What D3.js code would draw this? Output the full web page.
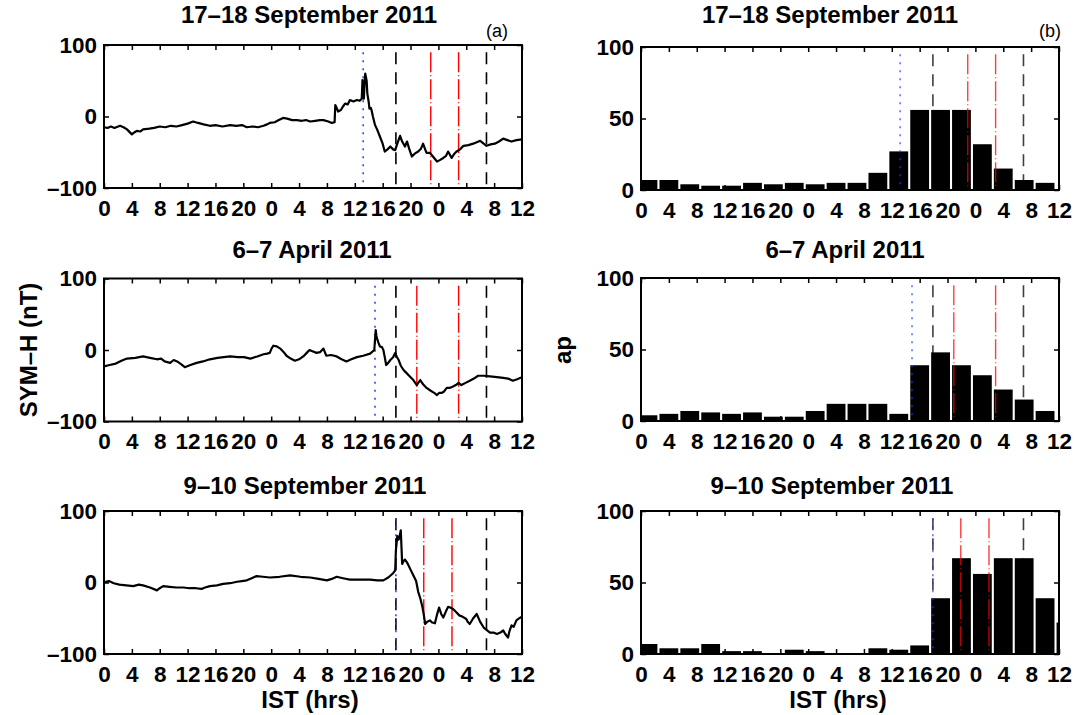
<!DOCTYPE html>
<html>
<head>
<meta charset="utf-8">
<script src="https://cdn.jsdelivr.net/npm/d3@7"></script>
<style>
body { margin: 0; background: #fff; }
</style>
</head>
<body>
<svg id="fig" width="1090" height="715"></svg>
<script>
var titles = ['17\u201318 September 2011', '6\u20137 April 2011', '9\u201310 September 2011'];
var xTickHours = [0, 4, 8, 12, 16, 20, 24, 28, 32, 36, 40, 44, 48, 52, 56, 60];
var xTickLabels = ['0', '4', '8', '12', '16', '20', '0', '4', '8', '12', '16', '20', '0', '4', '8', '12'];
var symTicks = [-100, 0, 100];
var apTicks = [0, 50, 100];

// SYM-H (nT), [hour, value]
var symSep17 = [[0, -15], [0.5, -16], [1, -14], [1.5, -16], [2.3, -13], [2.8, -15], [3.3, -18], [4, -25], [4.4, -22],
    [4.7, -20], [5.2, -21], [5.6, -18], [6.5, -17], [7.2, -16], [8, -14], [8.8, -15], [9.6, -13], [10.4, -14], [11.2, -12],
    [12, -10], [12.8, -7], [13.5, -9], [14.3, -11], [15.2, -13], [16, -12], [17, -14], [18.1, -12], [19, -13], [19.8, -12],
    [20.5, -15], [21.3, -14], [22.1, -15], [22.9, -13], [23.4, -11], [23.8, -9], [24.5, -8], [25.1, -5], [25.7, -2],
    [26.3, -3], [27, -5], [27.7, -5], [28.4, -6], [29, -5], [29.6, -7], [30.3, -6], [31, -5], [31.5, -5], [32.2, -7],
    [32.7, -9], [33.1, -8], [33.2, 16], [33.4, 12], [33.6, 7], [34, 9], [34.3, 14], [34.6, 18], [35, 17], [35.3, 23],
    [35.8, 21], [36.3, 23], [36.7, 22], [37, 25], [37.1, 51], [37.2, 40], [37.3, 25], [37.4, 45], [37.5, 60], [37.7, 50],
    [37.8, 32], [38, 20], [38.1, 11], [38.3, 12], [38.4, 9], [38.6, 0], [38.9, -12], [39.2, -18], [39.6, -28], [40, -38],
    [40.3, -49], [40.7, -46], [41.1, -42], [41.5, -46], [41.8, -47], [42.1, -38], [42.5, -27], [42.8, -35], [43.2, -42],
    [43.5, -35], [43.8, -45], [44.2, -56], [44.6, -52], [45.1, -49], [45.5, -45], [45.8, -38], [46.1, -46], [46.3, -51],
    [46.8, -51], [47.3, -57], [47.8, -63], [48.2, -61], [48.7, -58], [49.1, -55], [49.4, -49], [49.9, -58], [50.3, -52],
    [50.6, -49], [51.1, -46], [51.6, -41], [52.3, -40], [53, -38], [53.5, -36], [54, -34], [54.5, -38], [54.9, -41],
    [55.5, -39], [56.1, -38], [56.7, -35], [57.3, -31], [57.9, -33], [58.5, -35], [59.2, -33], [60, -32]];
var symApr6 = [[0, -23], [0.8, -21], [1.7, -19], [2.5, -15], [3.3, -12], [4.5, -11], [5.6, -9], [6.6, -11], [7.6, -13],
    [8.2, -12], [8.7, -16], [9.5, -18], [10, -14], [10.5, -16], [11.1, -20], [11.6, -24], [12.4, -21], [13.3, -18],
    [14.2, -16], [15.2, -13], [16.3, -11], [17.2, -10], [18.1, -9], [19.2, -10], [20.1, -10], [21, -12], [22, -9],
    [22.9, -6], [23.4, -5], [23.8, -4], [24, 1], [24.3, 6], [24.8, 5], [25.3, 2], [25.8, -3], [26.2, -8], [26.8, -12],
    [27.4, -15], [28, -13], [28.6, -9], [29.1, -4], [29.5, 0], [30, -2], [30.5, -4], [31, -3], [31.5, 2], [31.7, -3],
    [31.9, -8], [32.6, -7], [33.4, -9], [34.1, -13], [34.8, -16], [35.5, -13], [36.3, -10], [37.2, -8], [38.2, -5],
    [38.8, 0], [39, 28], [39.1, 20], [39.2, 16], [39.4, 10], [39.6, 5], [39.9, 4], [40.1, 0], [40.3, -10], [40.5, -21],
    [40.8, -18], [41.1, -14], [41.5, -10], [41.8, -4], [42, -9], [42.3, -14], [42.6, -22], [43, -28], [43.4, -32],
    [43.9, -37], [44.4, -42], [44.9, -49], [45.1, -46], [45.4, -42], [45.8, -48], [46.3, -53], [46.9, -57], [47.4, -60],
    [47.8, -63], [48.1, -60], [48.5, -60], [48.8, -58], [49.2, -53], [49.6, -53], [50.1, -51], [50.5, -49], [50.9, -46],
    [51.3, -49], [51.9, -46], [52.5, -43], [53.1, -40], [53.7, -36], [54.5, -36], [55.4, -37], [56.4, -38], [57.3, -39],
    [58, -40], [58.7, -43], [59.3, -41], [60, -38]];
var symSep9 = [[0, 0], [0.7, 2], [1.4, -1], [2.2, -3], [3.2, -4], [4.2, -5], [5, -3], [5.6, -4], [6.6, -7], [7.6, -11],
    [8, -8], [8.5, -5], [9.4, -6], [10.4, -7], [11.4, -7], [12.3, -8], [13.2, -8], [14, -9], [14.5, -7], [15.2, -5],
    [16.2, -4], [17.1, -2], [18.1, -1], [19.1, 1], [19.8, 2], [20.5, 3], [21.2, 6], [21.9, 9], [22.8, 8], [23.8, 7],
    [25.2, 8], [26.7, 10], [28.2, 8], [29.6, 7], [30.8, 5], [32, 3], [32.7, 5], [33.4, 8], [34.3, 6], [35.3, 4],
    [36.8, 4], [38.2, 4], [39.2, 3], [40.1, 3], [40.8, 7], [41.5, 13], [41.8, 17], [41.9, 45], [42.1, 65], [42.3, 60],
    [42.5, 68], [42.6, 73], [42.7, 50], [42.8, 26], [43, 30], [43.2, 32], [43.5, 28], [43.7, 24], [44, 18], [44.4, 10],
    [44.8, 2], [45.1, -13], [45.4, -22], [45.7, -34], [45.9, -45], [46.1, -58], [46.4, -55], [46.8, -53], [47.1, -56],
    [47.5, -57], [47.8, -45], [48.1, -35], [48.4, -44], [48.7, -49], [49.1, -40], [49.4, -34], [49.7, -35], [50.1, -37],
    [50.5, -41], [51, -46], [51.5, -48], [52, -51], [52.2, -55], [52.5, -58], [53, -50], [53.5, -44], [54, -55],
    [54.5, -63], [55, -67], [55.4, -70], [55.9, -70], [56.4, -72], [56.9, -70], [57.3, -67], [57.6, -72], [58, -77],
    [58.2, -68], [58.5, -60], [58.8, -62], [59.2, -53], [59.6, -50], [60, -48]];

// 3-hourly ap, bin centres in IST hours
var apHours = [1, 4, 7, 10, 13, 16, 19, 22, 25, 28, 31, 34, 37, 40, 43, 46, 49, 52, 55, 58, 61];
var apSep17 = [7, 7, 4, 3, 3, 5, 4, 5, 4, 5, 5, 12, 27, 56, 56, 56, 32, 15, 7, 5, 0];
var apApr6 = [4, 5, 7, 6, 5, 6, 3, 3, 7, 12, 12, 12, 5, 39, 48, 39, 32, 22, 15, 7, 0];
var apSep9 = [7, 4, 4, 7, 2, 2, 0, 3, 2, 0, 0, 4, 3, 6, 39, 67, 56, 67, 67, 39, 22];

// event times (hours) : blue dotted, black dashed, red dash-dot
var blueLines = [[37.2], [38.9], [41.9]];
var blackLines = [[41.9, 54.9], [41.9, 54.9], [41.9, 54.9]];
var redLines = [[46.9, 50.9], [44.9, 50.9], [45.9, 49.95]];

var symSeries = [symSep17, symApr6, symSep9];
var apSeries = [apSep17, apApr6, apSep9];

var FONT = '"Liberation Sans", Arial, Helvetica, sans-serif';
var svg = d3.select('#fig');
var leftX = [104, 522], rightX = [641, 1059];
var leftTops = [45, 278.5, 511], rightTops = [47, 278, 511];
var titleBase = [23, 258, 494];
var titleX = [[309, 830], [312, 845], [305, 832]];
var PH = 143;

var styleAxis = function (g, showText) {
    g.select('.domain').remove();
    g.attr('font-family', FONT).attr('font-size', 22.5).attr('font-weight', 'bold');
    g.selectAll('line').attr('stroke', '#000').attr('stroke-width', 1.5);
    if (!showText) g.selectAll('text').remove();
};

var drawAxes = function (g, x, y, yTicks) {
    var fmt = function (d) { return d < 0 ? '\u2013' + Math.abs(d) : d; };
    g.append('g').attr('transform', 'translate(0,' + y.range()[0] + ')')
        .call(d3.axisBottom(x).tickValues(xTickHours).tickFormat(function (d, i) { return xTickLabels[i]; })
            .tickSizeInner(-5).tickSizeOuter(0).tickPadding(12))
        .call(styleAxis, true);
    g.append('g').attr('transform', 'translate(0,' + y.range()[1] + ')')
        .call(d3.axisTop(x).tickValues(xTickHours).tickSizeInner(-5).tickSizeOuter(0))
        .call(styleAxis, false);
    g.append('g').attr('transform', 'translate(' + x.range()[0] + ',0)')
        .call(d3.axisLeft(y).tickValues(yTicks).tickFormat(fmt).tickSizeInner(-5).tickSizeOuter(0).tickPadding(7))
        .call(styleAxis, true);
    g.append('g').attr('transform', 'translate(' + x.range()[1] + ',0)')
        .call(d3.axisRight(y).tickValues(yTicks).tickSizeInner(-5).tickSizeOuter(0))
        .call(styleAxis, false);
    g.append('rect')
        .attr('x', x.range()[0]).attr('y', y.range()[1])
        .attr('width', x.range()[1] - x.range()[0]).attr('height', y.range()[0] - y.range()[1])
        .attr('fill', 'none').attr('stroke', '#000').attr('stroke-width', 2);
};

var drawMarkers = function (g, x, y, row, topVal, opacity) {
    var y0 = y(topVal), y1 = y.range()[0];
    var sets = [
        {hours: blackLines[row], color: '#000', dash: '12,8', width: 1.6},
        {hours: redLines[row], color: '#ff0000', dash: '20,3,1,3', width: 1.4},
        {hours: blueLines[row], color: '#1a3cff', dash: '2,6', width: 1.5}
    ];
    sets.forEach(function (s) {
        g.selectAll(null).data(s.hours).enter().append('line')
            .attr('x1', function (d) { return x(d); }).attr('x2', function (d) { return x(d); })
            .attr('y1', y0).attr('y2', y1)
            .attr('stroke', s.color).attr('stroke-width', s.width)
            .attr('stroke-dasharray', s.dash).attr('opacity', opacity);
    });
};

var addClip = function (id, x, y) {
    svg.append('clipPath').attr('id', id).append('rect')
        .attr('x', x.range()[0]).attr('y', y.range()[1])
        .attr('width', x.range()[1] - x.range()[0]).attr('height', y.range()[0] - y.range()[1]);
};

var title = function (text, cx, baseline) {
    svg.append('text').attr('x', cx).attr('y', baseline).attr('text-anchor', 'middle')
        .attr('font-family', FONT).attr('font-size', 24).attr('font-weight', 'bold').text(text);
};

[0, 1, 2].forEach(function (row) {
    // left: SYM-H line
    var xl = d3.scaleLinear().domain([0, 60]).range(leftX);
    var yl = d3.scaleLinear().domain([-100, 100]).range([leftTops[row] + PH, leftTops[row]]);
    var gl = svg.append('g');
    addClip('clipL' + row, xl, yl);
    var line = d3.line().x(function (d) { return xl(d[0]); }).y(function (d) { return yl(d[1]); });
    drawMarkers(gl, xl, yl, row, 90, 1);
    gl.append('path').datum(symSeries[row]).attr('d', line)
        .attr('clip-path', 'url(#clipL' + row + ')')
        .attr('fill', 'none').attr('stroke', '#000').attr('stroke-width', 2.2).attr('stroke-linejoin', 'round');
    drawAxes(gl, xl, yl, symTicks);
    title(titles[row], titleX[row][0], titleBase[row]);

    // right: ap bars
    var xr = d3.scaleLinear().domain([0, 60]).range(rightX);
    var yr = d3.scaleLinear().domain([0, 100]).range([rightTops[row] + PH, rightTops[row]]);
    var gr = svg.append('g');
    addClip('clipR' + row, xr, yr);
    var bw = xr(2.7) - xr(0);
    gr.append('g').attr('clip-path', 'url(#clipR' + row + ')')
        .selectAll('rect').data(apSeries[row]).enter().append('rect')
        .attr('x', function (d, i) { return xr(apHours[i]) - bw / 2; })
        .attr('y', function (d) { return yr(d); })
        .attr('width', bw)
        .attr('height', function (d) { return yr(0) - yr(d); })
        .attr('fill', '#000');
    drawMarkers(gr, xr, yr, row, 95, 0.75);
    drawAxes(gr, xr, yr, apTicks);
    title(titles[row], titleX[row][1], titleBase[row] + (row === 0 ? 0 : 0));
});

// panel letters and axis labels
svg.append('text').attr('x', 497).attr('y', 37).attr('text-anchor', 'middle')
    .attr('font-family', FONT).attr('font-size', 18).text('(a)');
svg.append('text').attr('x', 1050).attr('y', 37).attr('text-anchor', 'middle')
    .attr('font-family', FONT).attr('font-size', 18).text('(b)');

var axisLabel = function (text, x, y, rotate) {
    svg.append('text')
        .attr('transform', 'translate(' + x + ',' + y + ')' + (rotate ? ' rotate(-90)' : ''))
        .attr('text-anchor', 'middle')
        .attr('font-family', FONT).attr('font-size', 24).attr('font-weight', 'bold').text(text);
};
axisLabel('SYM\u2013H (nT)', 37, 350, true);
axisLabel('ap', 571, 350, true);
axisLabel('IST (hrs)', 310, 708, false);
axisLabel('IST (hrs)', 838, 708, false);
</script>
</body>
</html>
